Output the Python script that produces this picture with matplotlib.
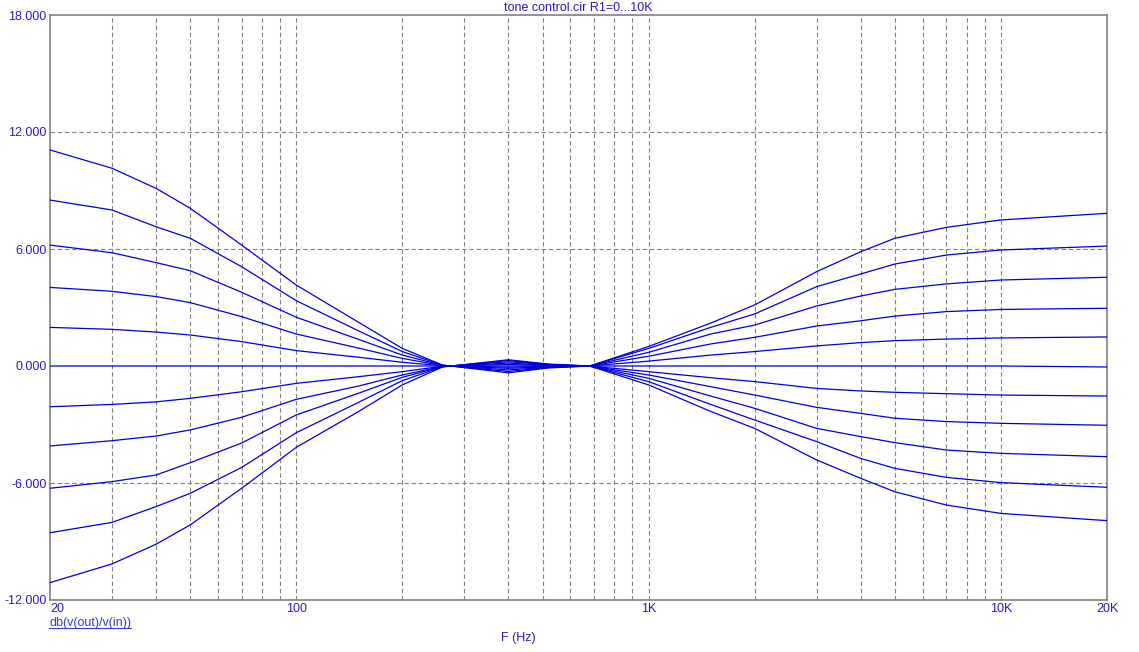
import matplotlib
matplotlib.use("Agg")
import matplotlib.pyplot as plt
from matplotlib.lines import Line2D

# frequency points (Hz)
freq = [20, 30, 40, 50, 70, 100, 150, 200, 260, 400, 520, 680,
        1000, 1500, 2000, 3000, 4000, 5000, 7000, 10000, 20000]

# one response per R1 step, dB
r1_0 = [11.08, 10.14, 9.11, 8.09, 6.20, 4.15, 2.25, 0.90, 0.05, -0.35, -0.10, 0.0,
        1.00, 2.20, 3.13, 4.84, 5.86, 6.55, 7.11, 7.49, 7.83]
r1_1 = [8.51, 8.00, 7.14, 6.55, 5.09, 3.35, 1.81, 0.74, 0.04, -0.28, -0.08, 0.0,
        0.90, 1.98, 2.67, 4.07, 4.72, 5.23, 5.69, 5.95, 6.15]
r1_2 = [6.20, 5.81, 5.30, 4.89, 3.78, 2.50, 1.37, 0.56, 0.03, -0.20, -0.06, 0.0,
        0.70, 1.64, 2.10, 3.08, 3.59, 3.93, 4.21, 4.41, 4.55]
r1_3 = [4.03, 3.83, 3.56, 3.25, 2.53, 1.64, 0.92, 0.39, 0.02, -0.12, -0.04, 0.0,
        0.50, 1.13, 1.47, 2.05, 2.32, 2.56, 2.79, 2.90, 2.96]
r1_4 = [1.98, 1.88, 1.74, 1.59, 1.25, 0.79, 0.45, 0.19, 0.01, -0.06, -0.02, 0.0,
        0.25, 0.56, 0.74, 1.03, 1.20, 1.30, 1.38, 1.44, 1.49]
r1_5 = [0.0, 0.0, 0.0, 0.0, 0.0, 0.0, 0.0, 0.0, 0.0, 0.0, 0.0, 0.0,
        0.0, 0.0, 0.0, 0.0, 0.0, 0.0, 0.0, 0.0, -0.05]
r1_6 = [-2.09, -1.97, -1.84, -1.66, -1.32, -0.89, -0.55, -0.29, -0.01, 0.08, 0.02, 0.0,
        -0.29, -0.60, -0.80, -1.15, -1.28, -1.35, -1.42, -1.49, -1.54]
r1_7 = [-4.10, -3.83, -3.59, -3.28, -2.63, -1.71, -1.03, -0.46, -0.02, 0.15, 0.04, 0.0,
        -0.46, -1.06, -1.49, -2.12, -2.43, -2.68, -2.85, -2.94, -3.04]
r1_8 = [-6.27, -5.93, -5.59, -4.96, -3.95, -2.51, -1.40, -0.58, -0.03, 0.22, 0.06, 0.0,
        -0.63, -1.54, -2.17, -3.20, -3.62, -3.93, -4.31, -4.48, -4.65]
r1_9 = [-8.55, -8.02, -7.21, -6.53, -5.20, -3.42, -1.87, -0.75, -0.04, 0.28, 0.08, 0.0,
        -0.80, -1.97, -2.77, -3.88, -4.74, -5.25, -5.71, -5.98, -6.22]
r1_10 = [-11.11, -10.15, -9.14, -8.15, -6.27, -4.17, -2.34, -0.97, -0.05, 0.32, 0.10, 0.0,
         -0.97, -2.33, -3.20, -4.82, -5.76, -6.45, -7.13, -7.56, -7.93]

curves = [r1_0, r1_1, r1_2, r1_3, r1_4, r1_5, r1_6, r1_7, r1_8, r1_9, r1_10]

y_ticks = [-12, -6, 0, 6, 12, 18]
x_ticks = [20, 100, 1000, 10000, 20000]
x_labels = ["20", "100", "1K", "10K", "20K"]
grid_freqs = [30, 40, 50, 60, 70, 80, 90, 100,
              200, 300, 400, 500, 600, 700, 800, 900, 1000,
              2000, 3000, 4000, 5000, 6000, 7000, 8000, 9000, 10000]
grid_db = [12, 6, -6]

LINE = "#0000d8"
TEXT = "#2d1bb0"
GRID = "#808080"

plt.rcParams["font.family"] = ["Liberation Sans", "DejaVu Sans"]

W, H = 1139, 652
fig = plt.figure(figsize=(W / 100, H / 100), dpi=100)
ax = fig.add_axes([50 / W, 52 / H, 1057 / W, 585 / H])
ax.set_xscale("log")
ax.set_xlim(20, 20000)
ax.set_ylim(-12, 18)

for f in grid_freqs:
    ax.axvline(f, color=GRID, lw=0.8, dashes=(4, 2.5), zorder=1)
for v in grid_db:
    ax.axhline(v, color=GRID, lw=0.8, dashes=(4, 2.5), zorder=1)

for g in curves:
    ax.plot(freq, g, color=LINE, lw=0.9, zorder=3)

for s in ax.spines.values():
    s.set_color(GRID)
    s.set_linewidth(1.2)

ax.minorticks_off()
ax.set_yticks(y_ticks)
ax.set_yticklabels([f"{v:.3f}" for v in y_ticks])
ax.set_xticks(x_ticks)
ax.set_xticklabels(x_labels)
ax.tick_params(length=0, labelsize=9, labelcolor=TEXT)
ax.tick_params(axis="y", pad=2.5)
ax.tick_params(axis="x", pad=2)
ax.get_xticklabels()[0].set_horizontalalignment("left")

fig.text(578.5 / W, 1 - 8 / H, "tone control.cir R1=0...10K",
         ha="center", va="center", fontsize=9, color=TEXT)
ylab = fig.text(49 / W, 1 - 623 / H, "db(v(out)/v(in))",
                ha="left", va="center", fontsize=9, color="#3a3ad0")
fig.text(518 / W, 1 - 638 / H, "F (Hz)",
         ha="center", va="center", fontsize=9, color=TEXT)

# underline the trace label
fig.canvas.draw()
bb = ylab.get_window_extent().transformed(fig.transFigure.inverted())
fig.add_artist(Line2D([bb.x0, bb.x1], [bb.y0 + 0.002, bb.y0 + 0.002],
                      transform=fig.transFigure, color="#3a3ad0", lw=0.8))

fig.savefig("out.png", dpi=100)
